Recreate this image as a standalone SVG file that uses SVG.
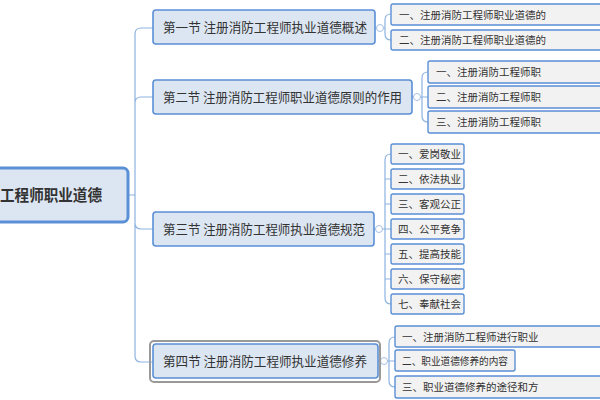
<svg xmlns="http://www.w3.org/2000/svg" width="600" height="400" viewBox="0 0 600 400">
<style>
text{font-family:"Noto Sans CJK SC","Liberation Sans",sans-serif;fill:#333}
.sec{fill:#dce6f2;stroke:#5b8fd6;stroke-width:1.6}
.leaf{fill:#f2f2f2;stroke:#5b8fd6;stroke-width:1.4}
.st{font-size:13px}
.lt{font-size:10.5px}
.c{fill:none;stroke:#8db3e2;stroke-width:1.2}
.tg{fill:#fff;stroke:#a6c0e4;stroke-width:1}
</style>
<rect width="600" height="400" fill="#fff"/>
<g id="connectors">
<path class="c" d="M128 195 H135 M135 34 V356 Q135 362 141 362 H153 M135 34 Q135 28 141 28 H153 M135 103 Q135 97 141 97 H153 M135 223 Q135 229 141 229 H153"/>
<path class="c" d="M375 28 H385 M385 20 V34 M385 20 Q385 14 391 14 M385 34 Q385 40 391 40"/>
<path class="c" d="M412 97 H422 M422 78 V116 M422 78 Q422 72 428 72 M422 97 H428 M422 116 Q422 122 428 122"/>
<path class="c" d="M374 229 H385 M385 160 V298 M385 160 Q385 154 391 154 M385 179 H391 M385 204 H391 M385 229 H391 M385 254 H391 M385 279 H391 M385 298 Q385 304 391 304"/>
<path class="c" d="M378 361 H389 M389 343 V381 M389 343 Q389 337 395 337 M389 361 H395 M389 381 Q389 387 395 387"/>
<circle class="tg" cx="380" cy="28" r="3.5"/>
<circle class="tg" cx="417" cy="97" r="3.5"/>
<circle class="tg" cx="379" cy="229" r="3.5"/>
<circle class="tg" cx="384" cy="361" r="3.5"/>
</g>
<g id="root">
<rect x="-20" y="168" width="148" height="54" rx="5" fill="#dce6f2" stroke="#5b8fd6" stroke-width="3"/>
<text x="0" y="201" font-size="16" font-weight="bold" textLength="102" lengthAdjust="spacingAndGlyphs">工程师职业道德</text>
</g>
<g id="s1"><rect class="sec" x="153" y="10" width="222" height="34" rx="3"/><text class="st" x="163" y="32" textLength="204" lengthAdjust="spacingAndGlyphs">第一节 注册消防工程师执业道德概述</text></g>
<g id="s2"><rect class="sec" x="153" y="80" width="259" height="34" rx="3"/><text class="st" x="163" y="102" textLength="239" lengthAdjust="spacingAndGlyphs">第二节 注册消防工程师职业道德原则的作用</text></g>
<g id="s3"><rect class="sec" x="153" y="212" width="221" height="34" rx="3"/><text class="st" x="163" y="234" textLength="202" lengthAdjust="spacingAndGlyphs">第三节 注册消防工程师执业道德规范</text></g>
<g id="s4"><rect x="150" y="341" width="230" height="41" rx="4" fill="none" stroke="#999" stroke-width="2"/><rect class="sec" x="153" y="344" width="225" height="34" rx="3"/><text class="st" x="163" y="366" textLength="204" lengthAdjust="spacingAndGlyphs">第四节  注册消防工程师执业道德修养</text></g>
<g id="l1a"><rect class="leaf" x="391" y="4" width="220" height="21" rx="2"/><text class="lt" x="399" y="19">一、注册消防工程师职业道德的</text></g>
<g id="l1b"><rect class="leaf" x="391" y="30" width="220" height="20" rx="2"/><text class="lt" x="399" y="44">二、注册消防工程师职业道德的</text></g>
<g id="l2a"><rect class="leaf" x="428" y="61" width="190" height="22" rx="2"/><text class="lt" x="436" y="76">一、注册消防工程师职</text></g>
<g id="l2b"><rect class="leaf" x="428" y="86" width="190" height="22" rx="2"/><text class="lt" x="436" y="101">二、注册消防工程师职</text></g>
<g id="l2c"><rect class="leaf" x="428" y="111" width="190" height="22" rx="2"/><text class="lt" x="436" y="126">三、注册消防工程师职</text></g>
<g id="l3a"><rect class="leaf" x="391" y="144" width="73" height="20" rx="2"/><text class="lt" x="398" y="158">一、爱岗敬业</text></g>
<g id="l3b"><rect class="leaf" x="391" y="169" width="73" height="20" rx="2"/><text class="lt" x="398" y="183">二、依法执业</text></g>
<g id="l3c"><rect class="leaf" x="391" y="194" width="73" height="20" rx="2"/><text class="lt" x="398" y="208">三、客观公正</text></g>
<g id="l3d"><rect class="leaf" x="391" y="219" width="73" height="20" rx="2"/><text class="lt" x="398" y="233">四、公平竞争</text></g>
<g id="l3e"><rect class="leaf" x="391" y="244" width="73" height="20" rx="2"/><text class="lt" x="398" y="258">五、提高技能</text></g>
<g id="l3f"><rect class="leaf" x="391" y="269" width="73" height="20" rx="2"/><text class="lt" x="398" y="283">六、保守秘密</text></g>
<g id="l3g"><rect class="leaf" x="391" y="294" width="73" height="20" rx="2"/><text class="lt" x="398" y="308">七、奉献社会</text></g>
<g id="l4a"><rect class="leaf" x="395" y="326" width="220" height="21" rx="2"/><text class="lt" x="402" y="341">一、注册消防工程师进行职业</text></g>
<g id="l4b"><rect class="leaf" x="395" y="350" width="120" height="21" rx="2"/><text class="lt" x="402" y="365" textLength="106" lengthAdjust="spacingAndGlyphs">二、职业道德修养的内容</text></g>
<g id="l4c"><rect class="leaf" x="395" y="376" width="220" height="22" rx="2"/><text class="lt" x="402" y="391">三、职业道德修养的途径和方</text></g>
</svg>
